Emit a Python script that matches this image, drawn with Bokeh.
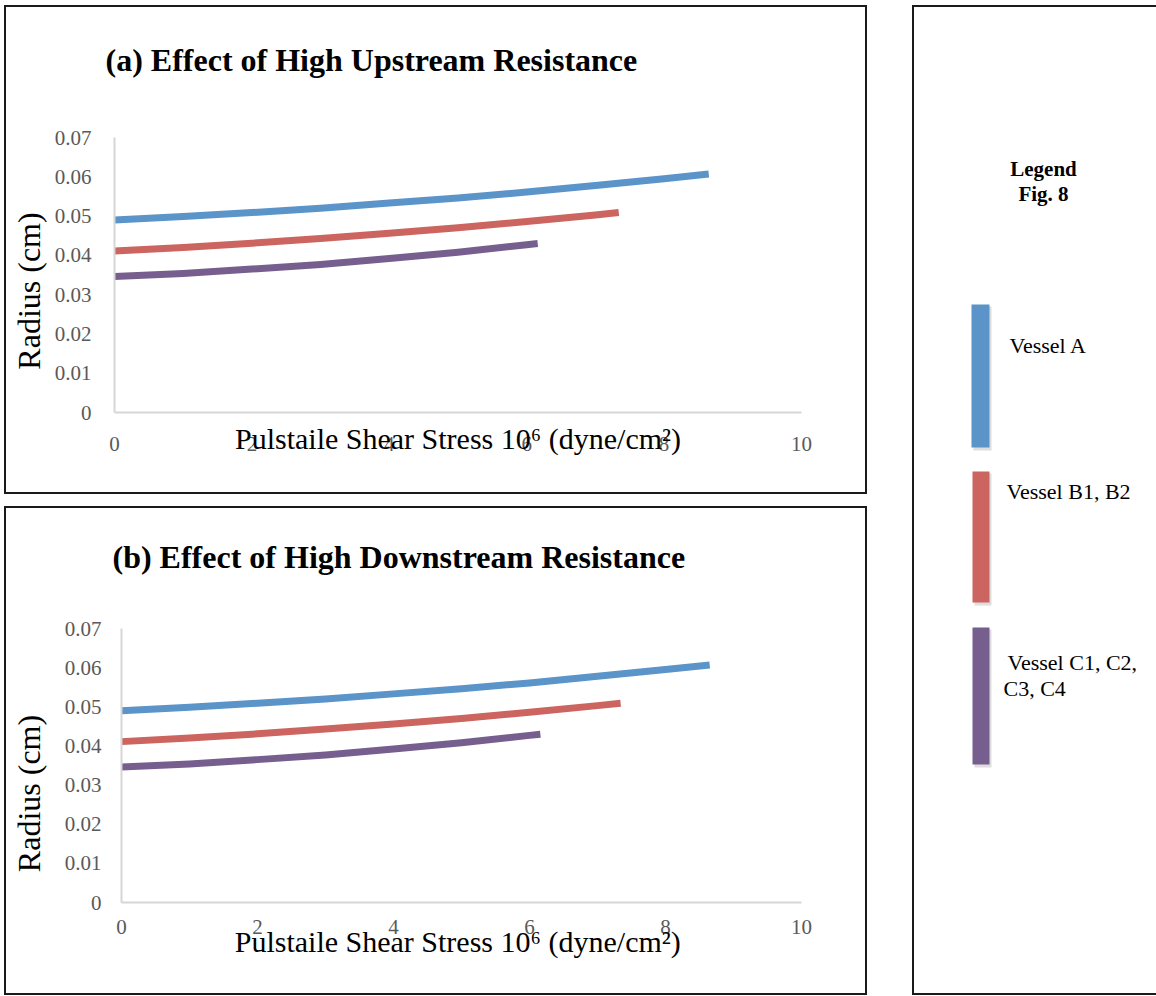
from bokeh.plotting import figure
from bokeh.layouts import column, row
from bokeh.models import FixedTicker, NumeralTickFormatter
from bokeh.core.properties import value
from bokeh.embed import file_html
from bokeh.resources import INLINE

# ---------------- data ----------------
series_names = ["Vessel A", "Vessel B1, B2", "Vessel C1, C2, C3, C4"]
series_colors = ["#5b94c9", "#cc6560", "#765f8e"]

# Pulsatile shear stress (x 10^6 dyne/cm^2) vs radius (cm)
x_vessel_a = [0, 1, 2, 3, 4, 5, 6, 7, 8, 8.65]
y_vessel_a = [0.0490, 0.0499, 0.0509, 0.0520, 0.0533, 0.0546, 0.0561, 0.0578, 0.0595, 0.0607]
x_vessel_b = [0, 1, 2, 3, 4, 5, 6, 7, 7.34]
y_vessel_b = [0.0411, 0.0420, 0.0431, 0.0443, 0.0456, 0.0470, 0.0486, 0.0503, 0.0509]
x_vessel_c = [0, 1, 2, 3, 4, 5, 6, 6.16]
y_vessel_c = [0.0346, 0.0354, 0.0365, 0.0377, 0.0392, 0.0408, 0.0427, 0.0430]

x_ticks = [0, 2, 4, 6, 8, 10]
y_ticks = [0, 0.01, 0.02, 0.03, 0.04, 0.05, 0.06, 0.07]

titles = ["(a) Effect of High Upstream Resistance", "(b) Effect of High Downstream Resistance"]
x_labels = ["Pulstaile Shear Stress 10\u2076 (dyne/cm\u00b2)", "Pulstaile Shear Stress 10\u2076  (dyne/cm\u00b2)"]
y_label = "Radius (cm)"
legend_title_lines = ["Legend", "Fig. 8"]
legend_label_lines = ["Vessel A", "Vessel B1, B2", "Vessel C1, C2,", "C3, C4"]

FONT = "Liberation Serif"
BORDER = "2px solid #1a1a1a"
NBSP = "\u00a0"

series = [(x_vessel_a, y_vessel_a), (x_vessel_b, y_vessel_b), (x_vessel_c, y_vessel_c)]

PW, PH = 863, 489


def make_panel(title, xlabel, fl, fr, ft, fb, xt_so, xl_so, yt_so, yl_so,
               t_so, ylabel_pad):
    p = figure(width=PW, height=PH, x_range=(0, 10), y_range=(0, 0.07),
               output_backend="svg", toolbar_location=None,
               min_border_left=fl, min_border_right=PW - fr,
               min_border_top=ft, min_border_bottom=PH - fb)
    p.styles = {"border": BORDER}
    p.outline_line_color = None
    p.xgrid.visible = False
    p.ygrid.visible = False

    for (xs, ys), c in zip(series, series_colors):
        p.line(xs, ys, line_color=c, line_width=7, line_cap="butt", line_join="round")

    # title: an empty second line lifts the title higher above the frame
    p.title.text = title + "\n"
    p.title.text_font = FONT
    p.title.text_font_size = "32px"
    p.title.text_font_style = "bold"
    p.title.text_color = "black"
    p.title.align = "left"
    p.title.offset = -9
    p.title.standoff = t_so

    for ax in (p.xaxis[0], p.yaxis[0]):
        ax.axis_line_color = "#d6d6d6"
        ax.axis_line_width = 2
        ax.major_tick_line_color = None
        ax.minor_tick_line_color = None
        ax.major_tick_out = 0
        ax.major_tick_in = 0
        ax.minor_tick_out = 0
        ax.minor_tick_in = 0
        ax.major_label_text_font = FONT
        ax.major_label_text_font_size = "21px"
        ax.major_label_text_color = "#595959"
        ax.axis_label_text_font = FONT
        ax.axis_label_text_font_style = "normal"
        ax.axis_label_text_color = "black"

    p.xaxis.axis_label_text_font_size = "30px"
    p.yaxis.axis_label_text_font_size = "32px"
    p.xaxis.ticker = FixedTicker(ticks=x_ticks)
    p.yaxis.ticker = FixedTicker(ticks=y_ticks)
    p.yaxis.formatter = NumeralTickFormatter(format="0.[00]")
    p.xaxis.axis_label = xlabel
    p.yaxis.axis_label = y_label + NBSP * ylabel_pad
    p.xaxis.major_label_standoff = xt_so
    p.xaxis.axis_label_standoff = xl_so
    p.yaxis.major_label_standoff = yt_so
    p.yaxis.axis_label_standoff = yl_so
    return p


pa = make_panel(titles[0], x_labels[0], fl=108, fr=795, ft=130, fb=405,
                xt_so=24, xl_so=-32, yt_so=23, yl_so=5, t_so=48, ylabel_pad=4)
pb = make_panel(titles[1], x_labels[1], fl=115, fr=795, ft=120, fb=394,
                xt_so=17, xl_so=-12, yt_so=20, yl_so=15, t_so=36, ylabel_pad=7)

# ---------------- legend panel ----------------
LW, LH = 244, 990
lg = figure(width=LW, height=LH, x_range=(0, LW), y_range=(LH, 0),
            output_backend="svg", toolbar_location=None,
            x_axis_location=None, y_axis_location=None, min_border=0)
lg.styles = {"border-left": BORDER, "border-top": BORDER, "border-bottom": BORDER}
lg.outline_line_color = None
lg.xgrid.visible = False
lg.ygrid.visible = False

# swatch layout (legend geometry, not data)
sw_left = [57, 58, 58]
sw_right = [75, 75, 75]
sw_top = [297, 464, 620]
sw_bottom = [440, 595, 757]
txt_x = [95, 92, 93, 89]
txt_y = [338, 484, 655, 681]

lg.quad(left=[v + 2 for v in sw_left], right=[v + 2 for v in sw_right],
        top=[v + 2 for v in sw_top], bottom=[v + 3 for v in sw_bottom],
        fill_color="#bdbdbd", fill_alpha=0.5, line_color=None)
lg.quad(left=sw_left, right=sw_right, top=sw_top, bottom=sw_bottom,
        fill_color=series_colors, line_color=None)
lg.text(x=txt_x, y=txt_y, text=legend_label_lines, text_font=value(FONT),
        text_font_size="22px", text_color="black", text_align="left",
        text_baseline="middle")
lg.text(x=[129, 129], y=[161, 186], text=legend_title_lines, text_font=value(FONT),
        text_font_size="21px", text_font_style="bold", text_color="black",
        text_align="center", text_baseline="middle")

layout = row(column(row(pa), row(pb), spacing=12), lg, spacing=45, margin=(5, 0, 0, 4))

open("out.html", "w").write(file_html(layout, INLINE))
